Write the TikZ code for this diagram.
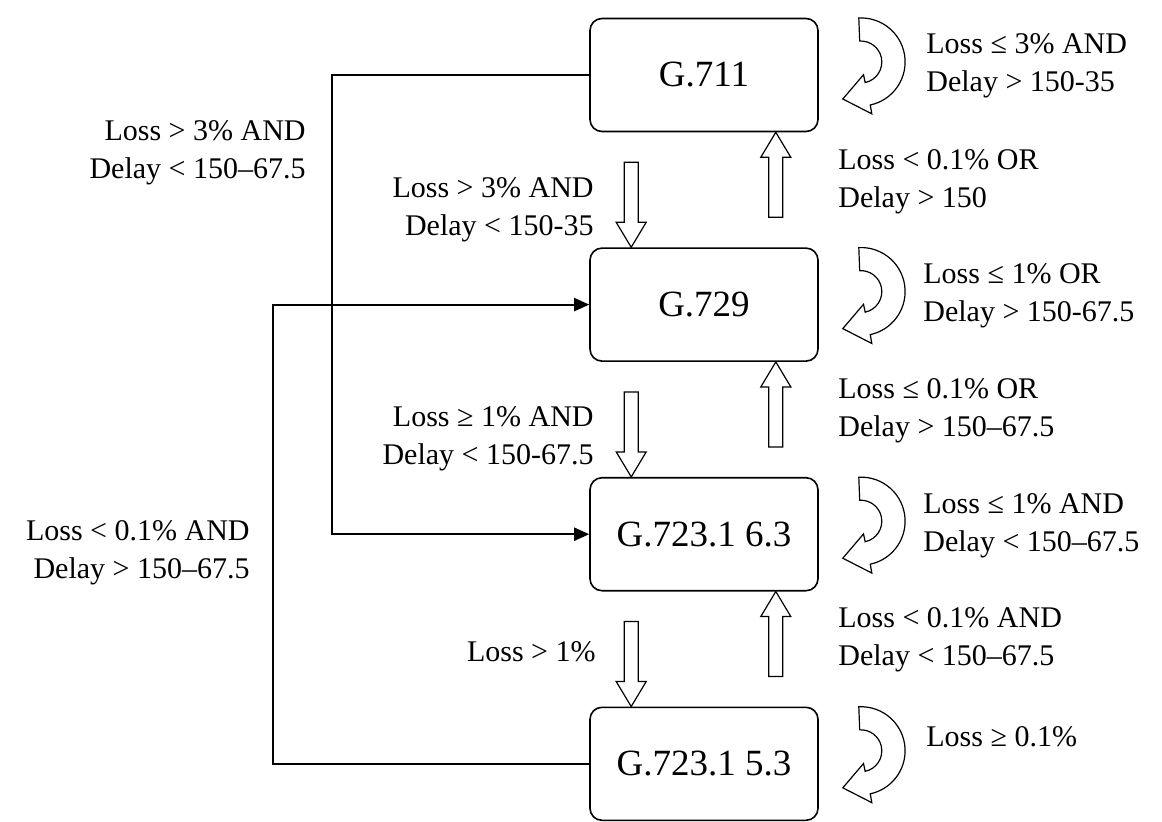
\documentclass[tikz,border=0pt]{standalone}
\usepackage{fontspec}
\setmainfont{Liberation Serif}
\usetikzlibrary{arrows.meta, positioning, calc}

\tikzset{
  dnarrow/.pic={\draw[hollow] (0,0) -- (-15,25) -- (-7,25) -- (-7,85) -- (7,85) -- (7,25) -- (15,25) -- cycle;},
  uparrow/.pic={\draw[hollow] (0,0) -- (-15,-25) -- (-7,-25) -- (-7,-85) -- (7,-85) -- (7,-25) -- (15,-25) -- cycle;},
  selfloop/.pic={\draw[hollow] (-2,44) arc[start angle=93, end angle=-78, radius=44] -- (-78:53) -- (-18,-37) -- (-78:13) -- (-78:21) arc[start angle=-78, end angle=93, radius=21] -- cycle;}
}

\begin{document}
\begin{tikzpicture}[
        x=0.5pt, y=0.5pt,
        codec/.style={draw, line width=0.8pt, rounded corners=6pt, minimum width=114pt, minimum height=56.5pt, font=\fontsize{18.5pt}{22pt}\selectfont},
        cond/.style={inner sep=0pt, font=\fontsize{15pt}{19pt}\selectfont},
        link/.style={line width=1pt, -{Triangle[length=7.5pt, width=6.5pt]}},
        hollow/.style={line width=0.6pt, fill=white}
    ]
        \useasboundingbox (0,0) rectangle (1162,-821);

        % codec states
        \node[codec] (g711) at (704,-75) {G.711};
        \node[codec, below=57.5pt of g711] (g729) {G.729};
        \node[codec, below=57.5pt of g729] (g63) {G.723.1 6.3};
        \node[codec, below=57.5pt of g63] (g53) {G.723.1 5.3};

        % switching down / up
        \pic at ([xshift=21pt]g729.north west) {dnarrow};
        \pic at ([xshift=21pt]g63.north west) {dnarrow};
        \pic at ([xshift=21pt]g53.north west) {dnarrow};
        \pic at ([xshift=-21.5pt]g711.south east) {uparrow};
        \pic at ([xshift=-21.5pt]g729.south east) {uparrow};
        \pic at ([xshift=-21.5pt]g63.south east) {uparrow};

        % staying
        \pic at ([shift={(42,13)}]g711.east) {selfloop};
        \pic at ([shift={(42,13)}]g729.east) {selfloop};
        \pic at ([shift={(42,13)}]g63.east) {selfloop};
        \pic at ([shift={(42,13)}]g53.east) {selfloop};

        % jumps
        \coordinate (busA) at (332,0);
        \coordinate (busB) at (273,0);
        \draw[link] (g711.west) -- (g711.west -| busA) |- (g63.west);
        \draw[link] (g53.west) -- (g53.west -| busB) |- (g729.west);

        % conditions, right side
        \node[cond, anchor=west, align=left] (r1) at (926,-66) {Loss ≤ 3\% AND\\Delay > 150-35};
        \node[cond, anchor=west, align=left] (r2) at (838,-182) {Loss < 0.1\% OR\\Delay > 150};
        \node[cond, anchor=west, align=left] (r3) at (923,-296) {Loss ≤ 1\% OR\\Delay > 150-67.5};
        \node[cond, anchor=west, align=left] (r4) at (838,-411) {Loss ≤ 0.1\% OR\\Delay > 150–67.5};
        \node[cond, anchor=west, align=left] (r5) at (923,-526) {Loss ≤ 1\% AND\\Delay < 150–67.5};
        \node[cond, anchor=west, align=left] (r6) at (838,-640) {Loss < 0.1\% AND\\Delay < 150–67.5};
        \node[cond, anchor=west, align=left] (r7) at (926,-737) {Loss ≥ 0.1\%};

        % conditions, left side
        \node[cond, anchor=east, align=right] (l1) at (306,-153) {Loss > 3\% AND\\Delay < 150–67.5};
        \node[cond, anchor=east, align=right] (l2) at (594,-210) {Loss > 3\% AND\\Delay < 150-35};
        \node[cond, anchor=east, align=right] (l3) at (594,-439) {Loss ≥ 1\% AND\\Delay < 150-67.5};
        \node[cond, anchor=east, align=right] (l4) at (250,-553) {Loss < 0.1\% AND\\Delay > 150–67.5};
        \node[cond, anchor=east, align=right] (l5) at (596,-652) {Loss > 1\%};
    \end{tikzpicture}
\end{document}
